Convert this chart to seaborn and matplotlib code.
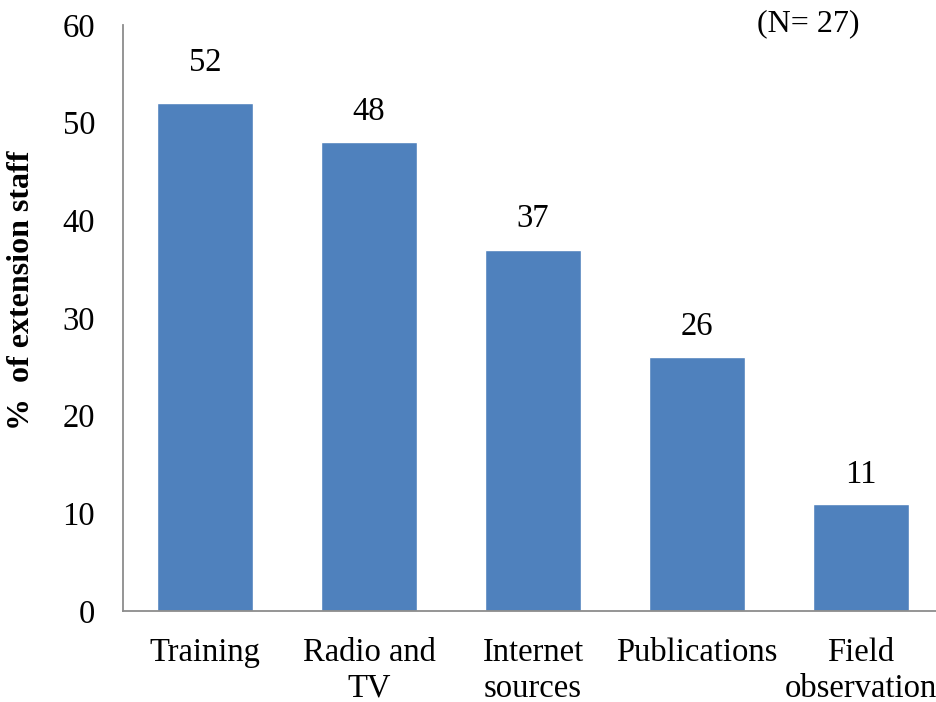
import matplotlib
matplotlib.use("Agg")
import matplotlib.pyplot as plt
import seaborn as sns
import pandas as pd

categories = ["Training", "Radio and\nTV", "Internet\nsources", "Publications", "Field\nobservation"]
percent = [52, 48, 37, 26, 11]
y_ticks = [0, 10, 20, 30, 40, 50, 60]

df = pd.DataFrame({"source": categories, "percent": percent})

sns.set_theme(style="white")
plt.rcParams["font.family"] = ["Liberation Serif", "DejaVu Serif"]

fig = plt.figure(figsize=(9.36, 7.02), dpi=100)
ax = fig.add_axes([123 / 936, 91 / 702, 820 / 936, 586 / 702])

sns.barplot(data=df, x="source", y="percent", color="#4F81BD", saturation=1,
            width=0.58, ax=ax)

ax.set_xlim(-0.5, 4.5)
ax.set_ylim(0, 60)
ax.set_yticks(y_ticks)
ax.tick_params(axis="both", length=0, labelsize=23.5, colors="black")
ax.tick_params(axis="x", pad=19)
ax.tick_params(axis="y", pad=20)
for lbl in ax.get_xticklabels():
    lbl.set_linespacing(1.23)
ax.set_xlabel("")
ax.set_ylabel("")

for side in ("top", "right"):
    ax.spines[side].set_visible(False)
for side in ("left", "bottom"):
    ax.spines[side].set_color("#8c8c8c")
    ax.spines[side].set_linewidth(1.3)

# value labels above bars (the tallest one sits a little higher)
label_offsets = [29, 22, 22, 22, 21]
for i, (v, off) in enumerate(zip(percent, label_offsets)):
    ax.annotate(str(v), xy=(i, v), xytext=(0, off), textcoords="offset points",
                ha="center", va="center", fontsize=23.5, color="black")

fig.text(22 / 936, 1 - 290 / 702, "%  of extension staff", rotation=90,
         ha="center", va="center", fontsize=23, fontweight="bold", color="black")
fig.text(808 / 936, 1 - 24 / 702, "(N= 27)", ha="center", va="center",
         fontsize=23, color="black")

fig.savefig("out.png", dpi=100)
